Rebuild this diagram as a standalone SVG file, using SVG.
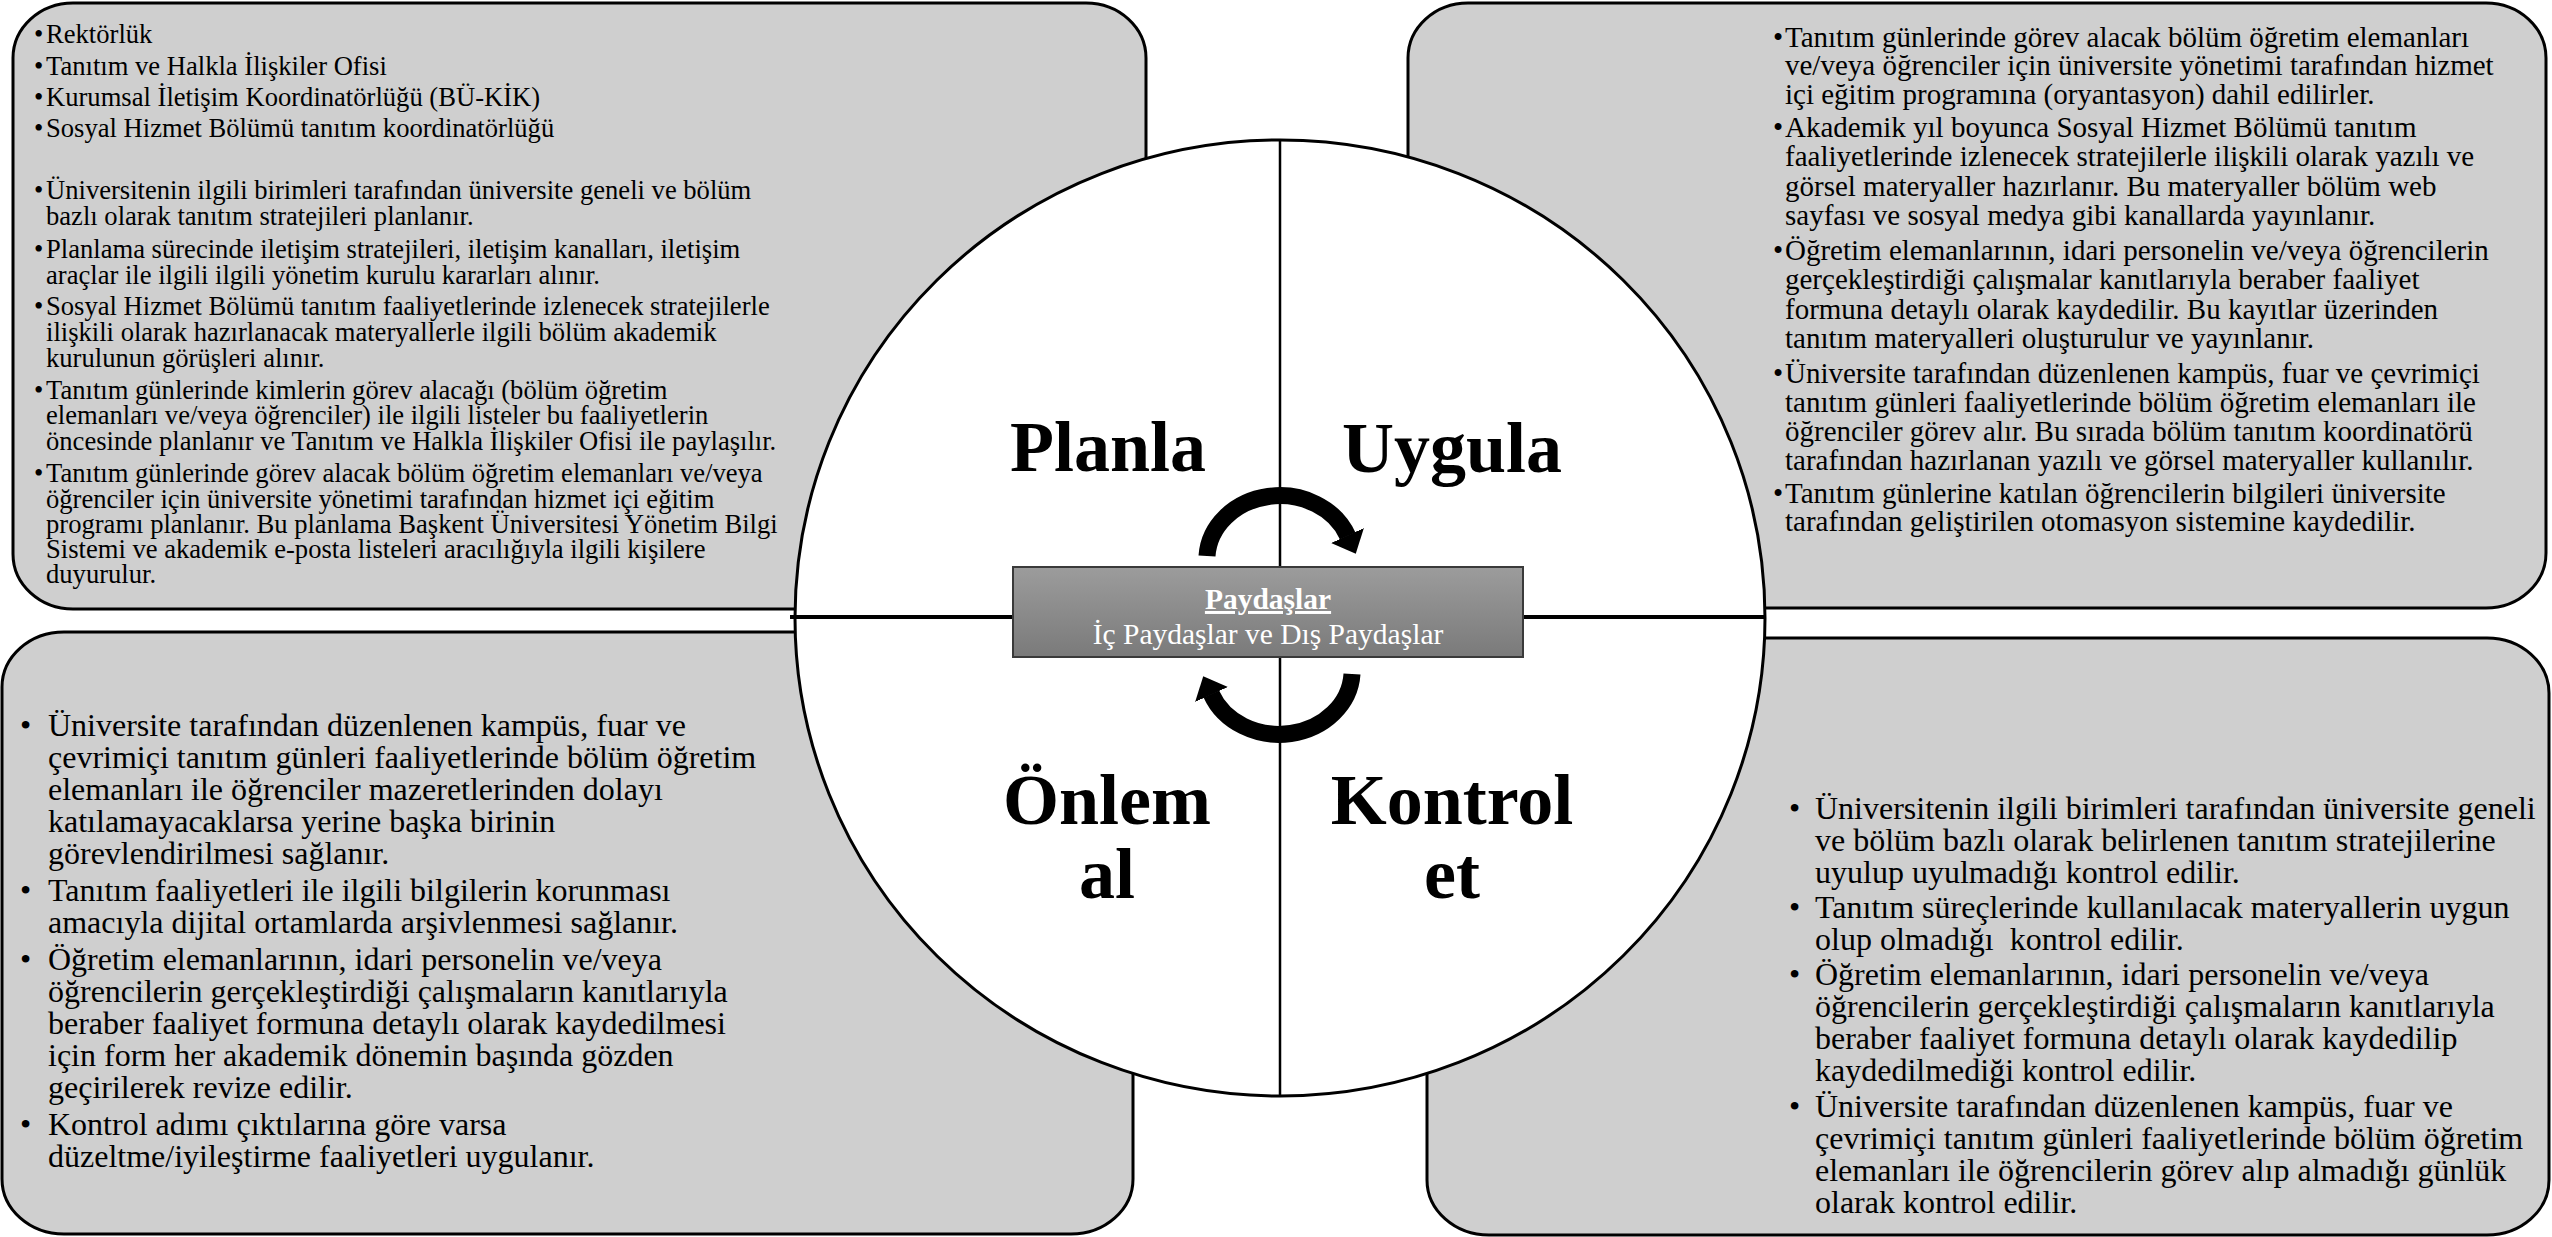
<svg xmlns="http://www.w3.org/2000/svg" width="2552" height="1237" viewBox="0 0 2552 1237">
  <defs>
    <style>
      .box { fill: #cfcfcf; stroke: #000; stroke-width: 3; }
      .t { font-family: "Liberation Serif", "Times New Roman", serif; fill: #000; }
      .tl { font-size: 26.6px; }
      .tr { font-size: 29px; }
      .bt { font-size: 32px; }
      .big { font-family: "Liberation Serif", "Times New Roman", serif; font-weight: bold; font-size: 72px; fill: #000; text-anchor: middle; }
      .hub { font-family: "Liberation Serif", "Times New Roman", serif; fill: #fff; text-anchor: middle; font-size: 29.5px; }
      .div { stroke: #000; fill: none; }
      .cyc { fill: none; stroke: #000; stroke-width: 17; marker-end: url(#head); }
    </style>
    <linearGradient id="hubFill" x1="0" y1="0" x2="0" y2="1">
      <stop offset="0" stop-color="#9c9c9c"/>
      <stop offset="1" stop-color="#7a7a7a"/>
    </linearGradient>
    <marker id="head" markerUnits="userSpaceOnUse" viewBox="0 0 20 36" refX="0.5" refY="18" markerWidth="20" markerHeight="36" orient="auto">
      <path d="M0,0 L20,18 L0,36 z" fill="#000"/>
    </marker>
  </defs>

  <rect width="2552" height="1237" fill="#fff"/>

  <!-- Planla: top-left panel -->
  <g id="panel-planla">
    <rect class="box" x="13" y="3" width="1133" height="606" rx="60" ry="55"/>
    <g class="t tl">
      <text x="34" y="43">•<tspan x="46">Rektörlük</tspan></text>
      <text x="34" y="75">•<tspan x="46">Tanıtım ve Halkla İlişkiler Ofisi</tspan></text>
      <text x="34" y="106">•<tspan x="46">Kurumsal İletişim Koordinatörlüğü (BÜ-KİK)</tspan></text>
      <text x="34" y="137">•<tspan x="46">Sosyal Hizmet Bölümü tanıtım koordinatörlüğü</tspan></text>
      <text x="34" y="199">•<tspan x="46">Üniversitenin ilgili birimleri tarafından üniversite geneli ve bölüm</tspan></text>
      <text x="46" y="225">bazlı olarak tanıtım stratejileri planlanır.</text>
      <text x="34" y="258">•<tspan x="46">Planlama sürecinde iletişim stratejileri, iletişim kanalları, iletişim</tspan></text>
      <text x="46" y="284">araçlar ile ilgili ilgili yönetim kurulu kararları alınır.</text>
      <text x="34" y="315">•<tspan x="46">Sosyal Hizmet Bölümü tanıtım faaliyetlerinde izlenecek stratejilerle</tspan></text>
      <text x="46" y="341">ilişkili olarak hazırlanacak materyallerle ilgili bölüm akademik</text>
      <text x="46" y="367">kurulunun görüşleri alınır.</text>
      <text x="34" y="399">•<tspan x="46">Tanıtım günlerinde kimlerin görev alacağı (bölüm öğretim</tspan></text>
      <text x="46" y="424">elemanları ve/veya öğrenciler) ile ilgili listeler bu faaliyetlerin</text>
      <text x="46" y="450">öncesinde planlanır ve Tanıtım ve Halkla İlişkiler Ofisi ile paylaşılır.</text>
      <text x="34" y="482">•<tspan x="46">Tanıtım günlerinde görev alacak bölüm öğretim elemanları ve/veya</tspan></text>
      <text x="46" y="508">öğrenciler için üniversite yönetimi tarafından hizmet içi eğitim</text>
      <text x="46" y="533">programı planlanır. Bu planlama Başkent Üniversitesi Yönetim Bilgi</text>
      <text x="46" y="558">Sistemi ve akademik e-posta listeleri aracılığıyla ilgili kişilere</text>
      <text x="46" y="583">duyurulur.</text>
    </g>
  </g>

  <!-- Uygula: top-right panel -->
  <g id="panel-uygula">
    <rect class="box" x="1408" y="3" width="1138" height="605" rx="60" ry="55"/>
    <g class="t tr">
      <text x="1773" y="47">•<tspan x="1785">Tanıtım günlerinde görev alacak bölüm öğretim elemanları</tspan></text>
      <text x="1785" y="75">ve/veya öğrenciler için üniversite yönetimi tarafından hizmet</text>
      <text x="1785" y="104">içi eğitim programına (oryantasyon) dahil edilirler.</text>
      <text x="1773" y="137">•<tspan x="1785">Akademik yıl boyunca Sosyal Hizmet Bölümü tanıtım</tspan></text>
      <text x="1785" y="166">faaliyetlerinde izlenecek stratejilerle ilişkili olarak yazılı ve</text>
      <text x="1785" y="196">görsel materyaller hazırlanır. Bu materyaller bölüm web</text>
      <text x="1785" y="225">sayfası ve sosyal medya gibi kanallarda yayınlanır.</text>
      <text x="1773" y="260">•<tspan x="1785">Öğretim elemanlarının, idari personelin ve/veya öğrencilerin</tspan></text>
      <text x="1785" y="289">gerçekleştirdiği çalışmalar kanıtlarıyla beraber faaliyet</text>
      <text x="1785" y="319">formuna detaylı olarak kaydedilir. Bu kayıtlar üzerinden</text>
      <text x="1785" y="348">tanıtım materyalleri oluşturulur ve yayınlanır.</text>
      <text x="1773" y="383">•<tspan x="1785">Üniversite tarafından düzenlenen kampüs, fuar ve çevrimiçi</tspan></text>
      <text x="1785" y="412">tanıtım günleri faaliyetlerinde bölüm öğretim elemanları ile</text>
      <text x="1785" y="441">öğrenciler görev alır. Bu sırada bölüm tanıtım koordinatörü</text>
      <text x="1785" y="470">tarafından hazırlanan yazılı ve görsel materyaller kullanılır.</text>
      <text x="1773" y="503">•<tspan x="1785">Tanıtım günlerine katılan öğrencilerin bilgileri üniversite</tspan></text>
      <text x="1785" y="531">tarafından geliştirilen otomasyon sistemine kaydedilir.</text>
    </g>
  </g>

  <!-- Önlem al: bottom-left panel -->
  <g id="panel-onlem-al">
    <rect class="box" x="2" y="632" width="1131" height="602" rx="62" ry="55"/>
    <g class="t bt">
      <text x="20" y="736">•<tspan x="48">Üniversite tarafından düzenlenen kampüs, fuar ve</tspan></text>
      <text x="48" y="768">çevrimiçi tanıtım günleri faaliyetlerinde bölüm öğretim</text>
      <text x="48" y="800">elemanları ile öğrenciler mazeretlerinden dolayı</text>
      <text x="48" y="832">katılamayacaklarsa yerine başka birinin</text>
      <text x="48" y="864">görevlendirilmesi sağlanır.</text>
      <text x="20" y="901">•<tspan x="48">Tanıtım faaliyetleri ile ilgili bilgilerin korunması</tspan></text>
      <text x="48" y="933">amacıyla dijital ortamlarda arşivlenmesi sağlanır.</text>
      <text x="20" y="970">•<tspan x="48">Öğretim elemanlarının, idari personelin ve/veya</tspan></text>
      <text x="48" y="1002">öğrencilerin gerçekleştirdiği çalışmaların kanıtlarıyla</text>
      <text x="48" y="1034">beraber faaliyet formuna detaylı olarak kaydedilmesi</text>
      <text x="48" y="1066">için form her akademik dönemin başında gözden</text>
      <text x="48" y="1098">geçirilerek revize edilir.</text>
      <text x="20" y="1135">•<tspan x="48">Kontrol adımı çıktılarına göre varsa</tspan></text>
      <text x="48" y="1167">düzeltme/iyileştirme faaliyetleri uygulanır.</text>
    </g>
  </g>

  <!-- Kontrol et: bottom-right panel -->
  <g id="panel-kontrol-et">
    <rect class="box" x="1427" y="638" width="1122" height="597" rx="62" ry="55"/>
    <g class="t bt">
      <text x="1789" y="819">•<tspan x="1815">Üniversitenin ilgili birimleri tarafından üniversite geneli</tspan></text>
      <text x="1815" y="851">ve bölüm bazlı olarak belirlenen tanıtım stratejilerine</text>
      <text x="1815" y="883">uyulup uyulmadığı kontrol edilir.</text>
      <text x="1789" y="918">•<tspan x="1815">Tanıtım süreçlerinde kullanılacak materyallerin uygun</tspan></text>
      <text x="1815" y="950" xml:space="preserve">olup olmadığı  kontrol edilir.</text>
      <text x="1789" y="985">•<tspan x="1815">Öğretim elemanlarının, idari personelin ve/veya</tspan></text>
      <text x="1815" y="1017">öğrencilerin gerçekleştirdiği çalışmaların kanıtlarıyla</text>
      <text x="1815" y="1049">beraber faaliyet formuna detaylı olarak kaydedilip</text>
      <text x="1815" y="1081">kaydedilmediği kontrol edilir.</text>
      <text x="1789" y="1117">•<tspan x="1815">Üniversite tarafından düzenlenen kampüs, fuar ve</tspan></text>
      <text x="1815" y="1149">çevrimiçi tanıtım günleri faaliyetlerinde bölüm öğretim</text>
      <text x="1815" y="1181">elemanları ile öğrencilerin görev alıp almadığı günlük</text>
      <text x="1815" y="1213">olarak kontrol edilir.</text>
    </g>
  </g>

  <!-- Central cycle disc split into four quarters -->
  <g id="cycle-disc">
    <ellipse cx="1280" cy="618" rx="485" ry="478" fill="#fff" stroke="#000" stroke-width="3"/>
    <line class="div" x1="1280" y1="140" x2="1280" y2="1096" stroke-width="2.5"/>
    <line class="div" x1="790" y1="617" x2="1765" y2="617" stroke-width="4"/>
  </g>

  <!-- Quarter titles -->
  <g id="label-planla"><text class="big" x="1108" y="471">Planla</text></g>
  <g id="label-uygula"><text class="big" x="1452" y="472">Uygula</text></g>
  <g id="label-onlem-al"><text class="big" x="1107" y="824">Önlem<tspan x="1107" y="898">al</tspan></text></g>
  <g id="label-kontrol-et"><text class="big" x="1452" y="824">Kontrol<tspan x="1452" y="898">et</tspan></text></g>

  <!-- Stakeholders hub -->
  <g id="hub-paydaslar">
    <rect x="1013" y="567" width="510" height="90" fill="url(#hubFill)" stroke="#3a3a3a" stroke-width="2"/>
    <text class="hub" x="1268" y="609" font-weight="bold" text-decoration="underline">Paydaşlar</text>
    <text class="hub" x="1268" y="644">İç Paydaşlar ve Dış Paydaşlar</text>
  </g>

  <!-- Cycle arrows -->
  <g id="connectors">
    <path class="cyc" d="M1207,556 A73,64 0 0 1 1347.7,536"/>
    <path class="cyc" d="M1207,556 A73,64 0 0 1 1347.7,536" transform="rotate(180 1279.5 615)"/>
  </g>
</svg>
